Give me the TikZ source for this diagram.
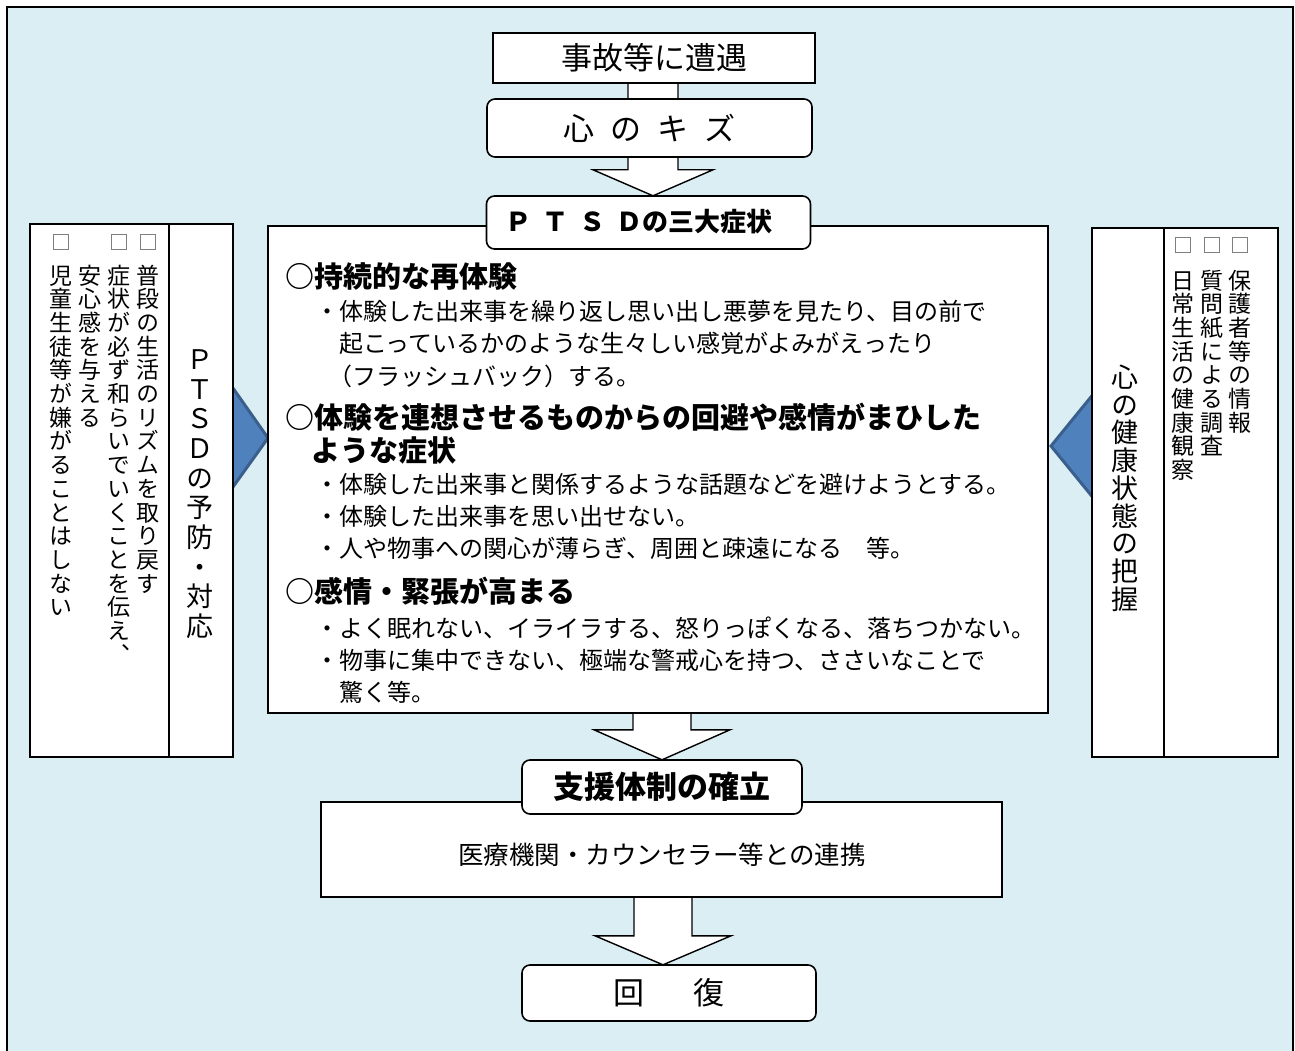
\documentclass[tikz,border=0pt]{standalone}
\usepackage{fontspec}
\usetikzlibrary{calc}
\newfontfamily\jp{Noto Sans CJK JP}
\newfontfamily\jpv[RawFeature=+vert]{Noto Sans CJK JP}
\definecolor{bgblue}{HTML}{DAEEF3}
\definecolor{triblue}{HTML}{4F81BD}
\definecolor{tribord}{HTML}{3A5F8C}
\definecolor{chkgray}{HTML}{7F7F7F}
\newlength\vp
\newcommand\vstack[2]{\setlength\vp{#1}\vbox{\offinterlineskip\vstackaux#2\relax}}
\def\vstackaux#1{\ifx\relax#1\else\hbox to\vp{\hss\vrule height.88\vp depth.12\vp width0pt\relax#1\hss}\expandafter\vstackaux\fi}
\newcommand\blockarrow[6]{%
  \path[blockarr] let \p1=#2, \p2=#3 in
   (#1pt-#4pt,\y1+4pt) -- (#1pt+#4pt,\y1+4pt) -- (#1pt+#4pt,\y2+#6pt) -- (#1pt+#5pt,\y2+#6pt)
   -- (#1pt,\y2) -- (#1pt-#5pt,\y2+#6pt) -- (#1pt-#4pt,\y2+#6pt) -- cycle;}
\tikzset{
  boxline/.style={draw=black, fill=white, line width=1.6pt},
  sqbox/.style={boxline, inner sep=0pt},
  rbox/.style={boxline, rounded corners=8pt, inner sep=0pt},
  blockarr/.style={draw=black, fill=white, line width=1.4pt, line join=miter},
  tri/.style={fill=triblue, draw=tribord, line width=3pt},
  head/.style={anchor=base west, inner sep=0pt, font=\jp\bfseries\fontsize{29}{29}\selectfont},
  body/.style={anchor=base west, inner sep=0pt, font=\jp\fontsize{24}{24}\selectfont},
  vt/.style={anchor=north, inner sep=0pt, font=\jpv\fontsize{23}{23}\selectfont},
  vtitle/.style={anchor=north, inner sep=0pt, font=\jpv\fontsize{27}{27}\selectfont},
  chk/.style={draw=chkgray, line width=1pt, fill=none, minimum size=15pt, inner sep=0pt},
  lab/.style={inner sep=0pt}
}
\begin{document}
\begin{tikzpicture}[x=1pt,y=-1pt]
\useasboundingbox (0,0) rectangle (1295,1051);
% background frame
\filldraw[fill=bgblue, draw=black, line width=2pt] (7,7) rectangle (1293,1062);

% blue pointers (behind panels)
\path[tri] (195,334) -- (268,438) -- (195,540) -- cycle;
\path[tri] (1130,349) -- (1051,446) -- (1130,543) -- cycle;

\path (654,58) coordinate (accC) (649.5,128) coordinate (kizuC)
      (648.5,222.5) coordinate (ptsdC) (658,469.5) coordinate (mainC)
      (662,787) coordinate (supTC) (661.5,849.5) coordinate (supCC)
      (669,993) coordinate (recC);

% invisible anchors for arrows
\node[minimum width=322pt, minimum height=50pt, inner sep=0pt] (acc0) at (accC) {};
\node[minimum width=325pt, minimum height=58pt, inner sep=0pt] (kizu0) at (kizuC) {};
\node[minimum width=324pt, minimum height=53pt, inner sep=0pt] (ptsd0) at (ptsdC) {};
\node[minimum width=780pt, minimum height=487pt, inner sep=0pt] (main0) at (mainC) {};
\node[minimum width=280pt, minimum height=54pt, inner sep=0pt] (supT0) at (supTC) {};
\node[minimum width=681pt, minimum height=95pt, inner sep=0pt] (supC0) at (supCC) {};
\node[minimum width=294pt, minimum height=56pt, inner sep=0pt] (rec0) at (recC) {};

% block arrows
\blockarrow{653}{(acc0.south)}{(kizu0.center)}{25}{40}{20}
\blockarrow{653}{(kizu0.south)}{(ptsd0.north)}{25}{60}{26}
\blockarrow{662}{(main0.south)}{(supT0.north)}{29}{68}{30}
\blockarrow{663}{(supC0.south)}{(rec0.north)}{29}{68}{29}

% side panels
\node[sqbox, minimum width=203pt, minimum height=533pt] (leftP) at (131.5,490.5) {};
\draw[line width=1.6pt] ($(leftP.north west)+(140,0)$) -- ($(leftP.south west)+(140,0)$);
\node[sqbox, minimum width=186pt, minimum height=529pt] (rightP) at (1185,492.5) {};
\draw[line width=1.6pt] ($(rightP.north west)+(73,0)$) -- ($(rightP.south west)+(73,0)$);

% main boxes
\node[sqbox, minimum width=780pt, minimum height=487pt] (main) at (mainC) {};
\node[sqbox, minimum width=322pt, minimum height=50pt, font=\jp\fontsize{31}{31}\selectfont] (acc) at (accC) {事故等に遭遇};
\node[rbox, minimum width=325pt, minimum height=58pt, font=\jp\fontsize{31}{31}\selectfont] (kizu) at (kizuC) {心\hspace{16pt}の\hspace{16pt}キ\hspace{16pt}ズ};
\node[rbox, minimum width=324pt, minimum height=53pt] (ptsd) at (ptsdC) {};
\node[lab, anchor=west, font=\jp\bfseries\fontsize{26}{26}\selectfont] (ptsdL) at (505,222) {Ｐ\hspace{11pt}Ｔ\hspace{11pt}Ｓ\hspace{11pt}Ｄの三大症状};
\node[sqbox, minimum width=681pt, minimum height=95pt] (supC) at (supCC) {};
\node[lab, font=\jp\fontsize{25.5}{25.5}\selectfont] (supCL) at (662,855) {医療機関・カウンセラー等との連携};
\node[rbox, minimum width=280pt, minimum height=54pt, font=\jp\bfseries\fontsize{31}{31}\selectfont] (supT) at (supTC) {支援体制の確立};
\node[rbox, minimum width=294pt, minimum height=56pt, font=\jp\fontsize{31}{31}\selectfont] (rec) at (recC) {回\hspace{50pt}復};

% main text
\node[head] (h1) at (285,287) {○持続的な再体験};
\node[body] (b1) at (315,320) {・体験した出来事を繰り返し思い出し悪夢を見たり、目の前で};
\node[body] (b2) at (339,352) {起こっているかのような生々しい感覚がよみがえったり};
\node[body] (b3) at (328,385) {（フラッシュバック）する。};
\node[head] (h2) at (285,428) {○体験を連想させるものからの回避や感情がまひした};
\node[head] (h2b) at (311,461) {ような症状};
\node[body] (b4) at (315,493) {・体験した出来事と関係するような話題などを避けようとする。};
\node[body] (b5) at (315,525) {・体験した出来事を思い出せない。};
\node[body] (b6) at (315,557) {・人や物事への関心が薄らぎ、周囲と疎遠になる　等。};
\node[head] (h3) at (285,602) {○感情・緊張が高まる};
\node[body] (b7) at (315,637) {・よく眠れない、イライラする、怒りっぽくなる、落ちつかない。};
\node[body] (b8) at (315,669) {・物事に集中できない、極端な警戒心を持つ、ささいなことで};
\node[body] (b9) at (339,701) {驚く等。};

% left panel text
\node[vtitle] (lt) at (200,343) {\vstack{29.7pt}{ＰＴＳＤの予防・対応}};
\node[chk] (lc1) at (148,242) {};
\node[chk] (lc2) at (119,242) {};
\node[chk] (lc4) at (61,242) {};
\node[vt] (l1) at (148,263) {\vstack{23.7pt}{普段の生活のリズムを取り戻す}};
\node[vt] (l2) at (119,263) {\vstack{23.7pt}{症状が必ず和らいでいくことを伝え、}};
\node[vt] (l3) at (90,263) {\vstack{23.7pt}{安心感を与える}};
\node[vt] (l4) at (61,263) {\vstack{23.7pt}{児童生徒等が嫌がることはしない}};

% right panel text
\node[vtitle] (rt) at (1125,363) {\vstack{27.7pt}{心の健康状態の把握}};
\node[chk] (rc1) at (1240,245) {};
\node[chk] (rc2) at (1212,245) {};
\node[chk] (rc3) at (1183,245) {};
\node[vt] (r1) at (1240,268) {\vstack{23.7pt}{保護者等の情報}};
\node[vt] (r2) at (1212,268) {\vstack{23.7pt}{質問紙による調査}};
\node[vt] (r3) at (1183,268) {\vstack{23.7pt}{日常生活の健康観察}};
\end{tikzpicture}
\end{document}
